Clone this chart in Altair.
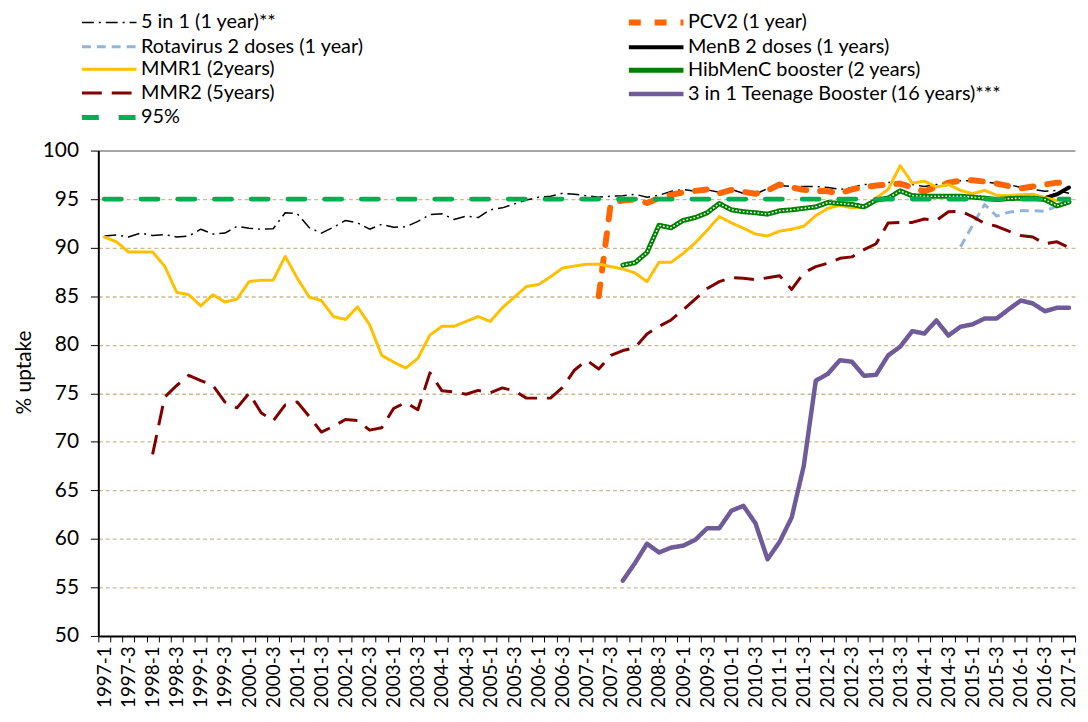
import altair as alt
import pandas as pd

# ---- categories (quarters) ----
years = list(range(1997, 2018))
quarters = [f"{y}-{q}" for y in years for q in (1, 2, 3, 4)][:81]  # 1997-1 .. 2017-1

# ---- series names (legend order) ----
S_5IN1 = "5 in 1 (1 year)**"
S_PCV2 = "PCV2 (1 year)"
S_ROTA = "Rotavirus 2 doses (1 year)"
S_MENB = "MenB 2 doses (1 years)"
S_MMR1 = "MMR1 (2years)"
S_HIB = "HibMenC booster (2 years)"
S_MMR2 = "MMR2 (5years)"
S_TEEN = "3 in 1 Teenage Booster (16 years)***"
S_95 = "95%"
names = [S_5IN1, S_PCV2, S_ROTA, S_MENB, S_MMR1, S_HIB, S_MMR2, S_TEEN, S_95]

# ---- values ----
five_in_one = [91.2, 91.3, 91.1, 91.5, 91.25, 91.35, 91.1, 91.2, 91.9, 91.4,
               91.5, 92.2, 92.0, 91.9, 91.95, 93.6, 93.5, 92.05, 91.5, 92.1,
               92.8, 92.55, 91.9, 92.4, 92.1, 92.15, 92.7, 93.4, 93.5, 92.9,
               93.25, 93.1, 93.9, 94.1, 94.5, 94.9, 95.2, 95.3, 95.6, 95.5,
               95.35, 95.2, 95.3, 95.35, 95.5, 95.2, 95.4, 95.8, 96.0, 95.8,
               95.95, 95.7, 96.0, 95.6, 95.5, 96.1, 96.4, 96.3, 96.3, 96.3,
               96.2, 96.0, 96.2, 96.5, 96.5, 96.7, 96.7, 96.5, 96.3, 96.5,
               96.7, 96.9, 96.9, 96.8, 96.6, 96.5, 96.2, 96.0, 95.8, 95.9,
               95.6]
five_in_one_start = "1997-1"

mmr1 = [91.1, 90.6, 89.55, 89.55, 89.55, 88.1, 85.4, 85.15, 84.0, 85.15,
        84.4, 84.7, 86.5, 86.65, 86.65, 89.1, 86.85, 84.9, 84.55, 82.9,
        82.6, 83.9, 82.05, 78.9, 78.2, 77.6, 78.6, 81.0, 81.9, 81.9,
        82.4, 82.9, 82.4, 83.8, 84.9, 86.0, 86.2, 87.0, 87.9, 88.1,
        88.3, 88.3, 88.05, 87.8, 87.4, 86.5, 88.5, 88.5, 89.4, 90.5,
        91.8, 93.2, 92.55, 92.0, 91.4, 91.2, 91.7, 91.9, 92.2, 93.3,
        94.05, 94.35, 94.1, 94.15, 95.1, 96.0, 98.45, 96.65, 96.85, 96.25,
        96.5, 95.9, 95.55, 95.9, 95.4, 95.35, 95.45, 95.5, 95.15, 94.85,
        95.1]
mmr1_start = "1997-1"

mmr2 = [68.7, 74.6, 75.8, 76.85, 76.3, 75.8, 74.1, 73.5, 75.0, 73.0,
        72.15, 73.8, 74.1, 72.6, 71.0, 71.6, 72.3, 72.2, 71.2, 71.45,
        73.45, 74.05, 73.3, 77.1, 75.25, 75.15, 74.9, 75.3, 75.05, 75.55,
        75.25, 74.5, 74.5, 74.5, 75.6, 77.4, 78.4, 77.5, 78.9, 79.4,
        79.7, 81.1, 81.9, 82.55, 83.6, 84.7, 85.8, 86.5, 86.9, 86.85,
        86.7, 86.9, 87.1, 85.7, 87.4, 88.05, 88.4, 88.9, 89.05, 89.8,
        90.4, 92.55, 92.6, 92.6, 92.95, 92.8, 93.7, 93.75, 93.2, 92.5,
        92.2, 91.7, 91.25, 91.1, 90.4, 90.6, 90.0]
mmr2_start = "1998-1"

pcv2 = [85.0, 94.6, 94.85, 94.95, 94.6, 95.1, 95.45, 95.7, 95.85, 96.0,
        95.6, 95.95, 95.75, 95.55, 95.9, 96.5, 96.2, 95.95, 95.85, 95.8,
        95.6, 96.0, 96.25, 96.4, 96.5, 96.6, 96.2, 95.8, 96.25, 96.7,
        96.9, 96.95, 96.8, 96.6, 96.35, 96.1, 96.3, 96.5, 96.7, 96.6]
pcv2_start = "2007-2"

hibmenc = [88.2, 88.45, 89.5, 92.3, 92.05, 92.8, 93.1, 93.6, 94.55, 93.9,
           93.7, 93.6, 93.45, 93.8, 93.9, 94.05, 94.2, 94.65, 94.55, 94.45,
           94.2, 94.9, 95.1, 95.85, 95.35, 95.3, 95.3, 95.3, 95.3, 95.2,
           95.1, 94.95, 95.05, 95.1, 95.1, 94.95, 94.3, 94.7]
hibmenc_start = "2007-4"

teen = [55.7, 57.5, 59.5, 58.6, 59.1, 59.3, 59.9, 61.1, 61.1, 62.9,
        63.4, 61.6, 57.9, 59.7, 62.2, 67.5, 76.3, 77.0, 78.4, 78.25,
        76.8, 76.9, 78.9, 79.8, 81.4, 81.15, 82.5, 80.95, 81.85, 82.1,
        82.7, 82.7, 83.65, 84.55, 84.25, 83.45, 83.8, 83.8]
teen_start = "2007-4"

rota = [90.1, 92.3, 94.45, 93.25, 93.65, 93.8, 93.8, 93.75, 94.3, 94.9]
rota_start = "2014-4"

menb = [95.1, 95.5, 96.2]
menb_start = "2016-3"

target_95 = [95] * len(quarters)
target_start = "1997-1"

series = [
    (S_5IN1, five_in_one_start, five_in_one),
    (S_PCV2, pcv2_start, pcv2),
    (S_ROTA, rota_start, rota),
    (S_MENB, menb_start, menb),
    (S_MMR1, mmr1_start, mmr1),
    (S_HIB, hibmenc_start, hibmenc),
    (S_MMR2, mmr2_start, mmr2),
    (S_TEEN, teen_start, teen),
    (S_95, target_start, target_95),
]

rows = []
for name, start, vals in series:
    k0 = quarters.index(start)
    for k, v in enumerate(vals):
        rows.append({"quarter": quarters[k0 + k], "series": name, "value": v})
df = pd.DataFrame(rows)

# ---- styles ----
colors = ["#000000", "#ff6600", "#95b3d7", "#000000", "#ffc000",
          "#008000", "#800000", "#6f5b99", "#00b050"]
dashes = [[12, 5, 2, 5], [12, 14], [9, 6], [1, 0], [1, 0],
          [1, 0], [20, 10], [1, 0], [17, 20]]
widths = [1.5, 6, 3, 4, 3, 5, 3, 4.5, 5]
caps = ["butt", "round", "butt", "round", "round", "round", "butt", "round", "round"]

FONT = "Lato"

legend = alt.Legend(
    title=None, orient="none", legendX=-2, legendY=-142, columns=2, direction="horizontal",
    columnPadding=254, rowPadding=0.8,
    symbolType="M-2.75,0H2.75", symbolSize=400,
    labelFont=FONT, labelFontSize=20, labelColor="#000000", labelOffset=19,
    labelLimit=500, padding=0,
)

quarter_labels = "(substring(datum.label, 5) === '1' || substring(datum.label, 5) === '3') ? datum.label : ''"

x_enc = alt.X(
    "quarter:O",
    scale=alt.Scale(domain=quarters, type="band", paddingInner=0, paddingOuter=0),
    bandPosition=0.5,
    axis=alt.Axis(
        title=None, labelAngle=270, labelExpr=quarter_labels, labelOverlap=False,
        labelFont=FONT, labelFontSize=19, labelColor="#000000", labelPadding=4,
        tickBand="extent", tickSize=6, tickColor="#000000", tickWidth=1,
        domainColor="#000000", domainWidth=2, grid=False,
    ),
)
y_enc = alt.Y(
    "value:Q",
    scale=alt.Scale(domain=[50, 100], nice=False, zero=False),
    axis=alt.Axis(
        title="% uptake", values=list(range(50, 101, 5)),
        titleFont=FONT, titleFontSize=21, titleFontWeight="normal", titleColor="#000000",
        titlePadding=8, titleY=223,
        labelFont=FONT, labelFontSize=21, labelColor="#000000", labelPadding=12,
        tickSize=8, tickColor="#000000", tickWidth=1,
        domainColor="#000000", domainWidth=2,
        grid=True,
        gridColor={"condition": {"test": "datum.value === 100", "value": "#a6a6a6"}, "value": "#c4bd97"},
        gridDash={"condition": {"test": "datum.value === 100", "value": [1, 0]}, "value": [4, 3]},
        gridWidth={"condition": {"test": "datum.value === 100", "value": 2}, "value": 1.3},
    ),
)

base = alt.Chart(df).encode(
    x=x_enc,
    y=y_enc,
    color=alt.Color("series:N", scale=alt.Scale(domain=names, range=colors), legend=legend),
    strokeDash=alt.StrokeDash("series:N", scale=alt.Scale(domain=names, range=dashes), legend=legend),
    strokeWidth=alt.StrokeWidth("series:N", scale=alt.Scale(type="ordinal", domain=names, range=widths), legend=legend),
)

layers = []
for name, cap in zip(names, caps):
    layers.append(
        base.transform_filter(alt.datum.series == name).mark_line(strokeCap=cap, strokeJoin="round")
    )
    if name == S_HIB:
        layers.append(
            alt.Chart(df).transform_filter(alt.datum.series == S_HIB)
            .mark_line(color="#ffffff", strokeWidth=1.6, strokeDash=[0.5, 3.2], strokeCap="round", opacity=0.9)
            .encode(x=x_enc, y=y_enc)
        )

chart = alt.layer(*layers).properties(
    width=984, height=489,
    padding={"left": 91, "top": 141, "right": 5, "bottom": 78},
    autosize=alt.AutoSizeParams(type="none"),
    background="#ffffff",
).configure_view(stroke=None)

chart.save("out.html", embed_options={"renderer": "svg", "actions": False})
